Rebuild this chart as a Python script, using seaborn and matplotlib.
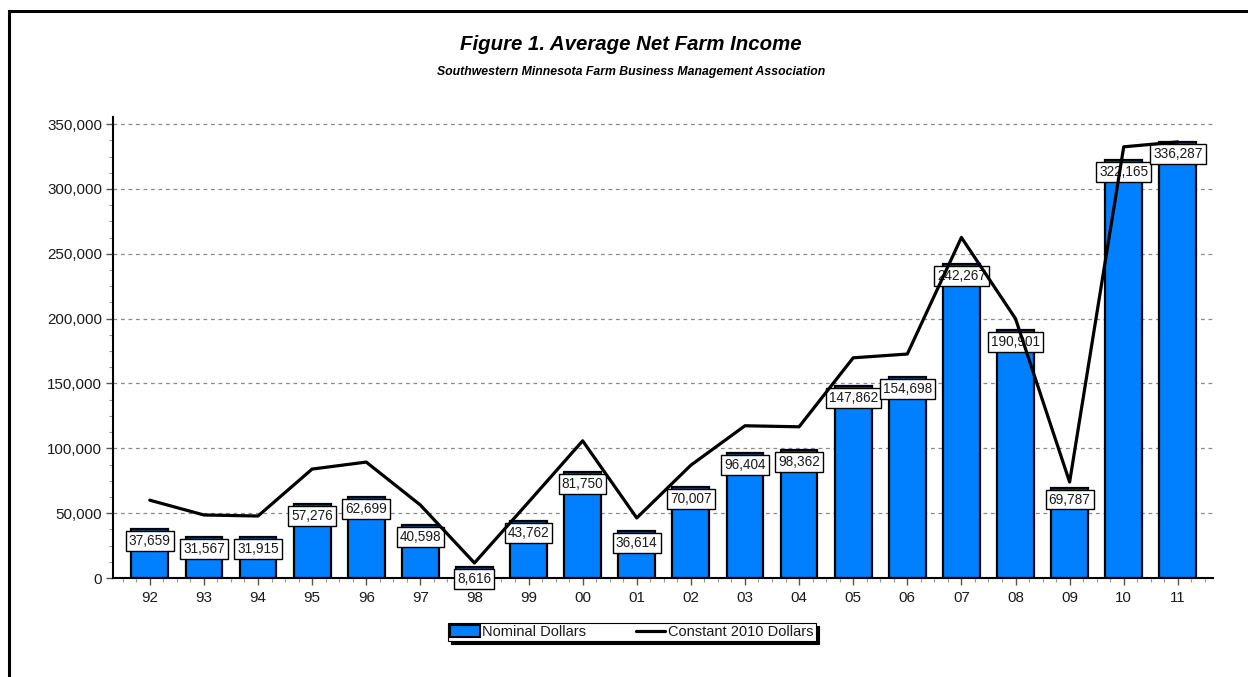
import numpy as np
import pandas as pd
import matplotlib
matplotlib.use("Agg")
import matplotlib.pyplot as plt
from matplotlib.ticker import MultipleLocator, FuncFormatter
from matplotlib.patches import Rectangle
from matplotlib.lines import Line2D
from matplotlib.patches import Patch
import seaborn as sns

years = ["92", "93", "94", "95", "96", "97", "98", "99", "00", "01",
         "02", "03", "04", "05", "06", "07", "08", "09", "10", "11"]
nominal = [37659, 31567, 31915, 57276, 62699, 40598, 8616, 43762, 81750, 36614,
           70007, 96404, 98362, 147862, 154698, 242267, 190901, 69787, 322165, 336287]
constant_2010 = [60000, 48600, 47800, 84000, 89400, 56300, 11600, 58500, 105800, 46300,
                 87000, 117400, 116600, 169800, 172700, 262600, 200000, 74000, 332500, 336300]

title = "Figure 1. Average Net Farm Income"
subtitle = "Southwestern Minnesota Farm Business Management Association"
legend_labels = ["Nominal Dollars", "Constant 2010 Dollars"]

BLUE = "#0080FF"
CAP = "#0a3d7a"
TXT = "#1a1a1a"

sns.set_theme(style="white")
plt.rcParams["font.family"] = ["Liberation Sans", "DejaVu Sans"]

fig = plt.figure(figsize=(12.48, 6.77), dpi=100)
ax = fig.add_axes([113 / 1248, 1 - 578 / 677, (1213 - 113) / 1248, (578 - 117) / 677])

df = pd.DataFrame({"year": years, "nominal": nominal, "constant": constant_2010})
x = np.arange(len(years))

sns.barplot(data=df, x="year", y="nominal", order=years, color=BLUE,
            saturation=1, edgecolor="black", linewidth=1.6, width=0.68, ax=ax, zorder=2)
# dark top cap on each bar
cap_h = 2600
ax.bar(x, [cap_h] * len(x), bottom=np.array(nominal) - cap_h, width=0.68,
       color=CAP, edgecolor="black", linewidth=1.2, zorder=3)

# value labels
for xi, v in zip(x, nominal):
    ax.annotate(f"{v:,}", xy=(xi, v), xytext=(0, -12), textcoords="offset pixels",
                ha="center", va="center", fontsize=9.8, color=TXT, zorder=4,
                bbox=dict(boxstyle="square,pad=0.22", fc="white", ec="black", lw=1.0))

sns.lineplot(x=x, y=constant_2010, color="black", linewidth=2.3, ax=ax, zorder=5,
             estimator=None, sort=False)

ax.set_xlim(-0.68, 19.65)
ax.set_ylim(0, 355500)
ax.yaxis.set_major_locator(MultipleLocator(50000))
ax.yaxis.set_minor_locator(MultipleLocator(12500))
ax.yaxis.set_major_formatter(FuncFormatter(lambda v, p: f"{int(v):,}"))
ax.xaxis.set_minor_locator(MultipleLocator(0.25))
ax.set_xticks(x)
ax.set_xticklabels(years)
ax.set_xlabel("")
ax.set_ylabel("")

for yv in np.arange(50000, 350001, 50000):
    ax.axhline(yv, color="#8a8a8a", lw=0.9, ls=(0, (3, 3)), zorder=1)

for s in ["top", "right"]:
    ax.spines[s].set_visible(False)
for s in ["left", "bottom"]:
    ax.spines[s].set_color("black")
    ax.spines[s].set_linewidth(1.5)

ax.tick_params(axis="both", which="major", direction="out", length=5, width=1,
               color="#555555", labelsize=10.9, labelcolor=TXT, pad=3)
ax.tick_params(axis="both", which="minor", direction="out", length=3, width=0.8,
               color="#999999")
ax.tick_params(axis="x", which="major", pad=4)
ax.tick_params(left=True, bottom=True, which="both")

fig.text(631 / 1248, 1 - 44 / 677, title, ha="center", va="center",
         fontsize=14.7, fontweight="bold", fontstyle="italic", color="black")
fig.text(631 / 1248, 1 - 72 / 677, subtitle, ha="center", va="center",
         fontsize=8.8, fontweight="bold", fontstyle="italic", color="black")

handles = [Patch(facecolor=BLUE, edgecolor="black", linewidth=1.5),
           Line2D([0], [0], color="black", lw=2.3)]
leg = fig.legend(handles, legend_labels, loc="center",
                 bbox_to_anchor=(632 / 1248, 1 - 632 / 677), ncol=2,
                 fontsize=10.5, frameon=True, fancybox=False,
                 shadow={"color": "black", "alpha": 1.0},
                 handlelength=2.0, handleheight=0.8, handletextpad=0.2,
                 columnspacing=3.4, borderpad=0.15, borderaxespad=0)
leg.get_frame().set_edgecolor("black")
leg.get_frame().set_linewidth(0.8)
for t in leg.get_texts():
    t.set_color(TXT)

# outer frame (top and left visible)
fig.patches.append(Rectangle((8.7 / 1248, -0.2), 1.2, 1.2 - 11.3 / 677,
                             transform=fig.transFigure, fill=False,
                             edgecolor="black", linewidth=2.2, zorder=10))

fig.savefig("out.png", dpi=100)
